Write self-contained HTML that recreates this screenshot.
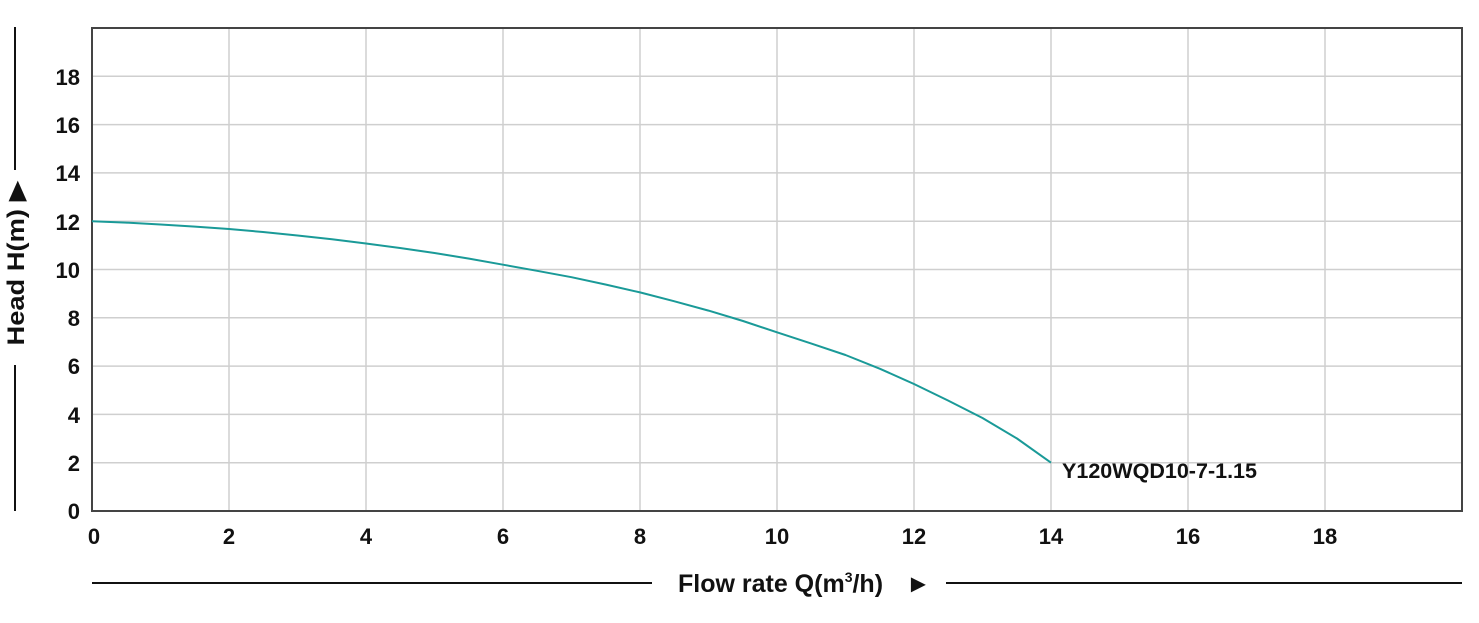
<!DOCTYPE html>
<html><head><meta charset="utf-8"><style>
html,body{margin:0;padding:0;background:#fff;}
svg{display:block;font-family:"Liberation Sans","DejaVu Sans",sans-serif;}
</style></head><body>
<svg width="1479" height="623" viewBox="0 0 1479 623" xmlns="http://www.w3.org/2000/svg">
<g stroke="#cfcfcf" stroke-width="1.5">
<line x1="229" y1="28" x2="229" y2="511"/><line x1="366" y1="28" x2="366" y2="511"/>
<line x1="503" y1="28" x2="503" y2="511"/><line x1="640" y1="28" x2="640" y2="511"/>
<line x1="777" y1="28" x2="777" y2="511"/><line x1="914" y1="28" x2="914" y2="511"/>
<line x1="1051" y1="28" x2="1051" y2="511"/><line x1="1188" y1="28" x2="1188" y2="511"/>
<line x1="1325" y1="28" x2="1325" y2="511"/>
<line x1="92" y1="462.7" x2="1462" y2="462.7"/><line x1="92" y1="414.4" x2="1462" y2="414.4"/>
<line x1="92" y1="366.1" x2="1462" y2="366.1"/><line x1="92" y1="317.8" x2="1462" y2="317.8"/>
<line x1="92" y1="269.5" x2="1462" y2="269.5"/><line x1="92" y1="221.2" x2="1462" y2="221.2"/>
<line x1="92" y1="172.9" x2="1462" y2="172.9"/><line x1="92" y1="124.6" x2="1462" y2="124.6"/>
<line x1="92" y1="76.3" x2="1462" y2="76.3"/>
</g>
<rect x="92" y="28" width="1370" height="483" fill="none" stroke="#444" stroke-width="2"/>
<polyline points="92,221.2 126,222.6 160.5,224.5 195,226.6 229,229 263,232 297.5,235.5 332,239.3 366,243.5 400,248 434.5,253 469,258.6 503,264.7 537,270.8 571.5,277.2 606,284.6 640,292.4 674,301.2 708.5,310.6 743,321 777,332.3 811,343.4 845.5,355 880,368.8 914,384 948,400.5 982.5,418 1017,438.5 1051,462.7" fill="none" stroke="#1a9a98" stroke-width="2" stroke-linejoin="round"/>
<g font-size="22" font-weight="bold" fill="#111" text-anchor="end">
<text x="80" y="519">0</text><text x="80" y="471">2</text><text x="80" y="423">4</text>
<text x="80" y="374">6</text><text x="80" y="326">8</text><text x="80" y="278">10</text>
<text x="80" y="230">12</text><text x="80" y="181">14</text><text x="80" y="133">16</text>
<text x="80" y="85">18</text>
</g>
<g font-size="22" font-weight="bold" fill="#111" text-anchor="middle">
<text x="94" y="544">0</text><text x="229" y="544">2</text><text x="366" y="544">4</text>
<text x="503" y="544">6</text><text x="640" y="544">8</text><text x="777" y="544">10</text>
<text x="914" y="544">12</text><text x="1051" y="544">14</text><text x="1188" y="544">16</text>
<text x="1325" y="544">18</text>
</g>
<text x="1062" y="478" font-size="21" font-weight="bold" fill="#111" textLength="195" lengthAdjust="spacingAndGlyphs">Y120WQD10-7-1.15</text>
<line x1="15" y1="27" x2="15" y2="170" stroke="#111" stroke-width="2"/>
<line x1="15" y1="365" x2="15" y2="511" stroke="#111" stroke-width="2"/>
<text transform="translate(24,263) rotate(-90)" text-anchor="middle" font-size="24" font-weight="bold" fill="#111" textLength="165" lengthAdjust="spacingAndGlyphs">Head H(m) ▶</text>
<line x1="92" y1="583" x2="652" y2="583" stroke="#111" stroke-width="2"/>
<line x1="946" y1="583" x2="1462" y2="583" stroke="#111" stroke-width="2"/>
<text x="678" y="592" font-size="25" font-weight="bold" fill="#111">Flow rate Q(m<tspan font-size="14" dy="-10">3</tspan><tspan dy="10">/h) </tspan><tspan x="906">►</tspan></text>
</svg>
</body></html>
